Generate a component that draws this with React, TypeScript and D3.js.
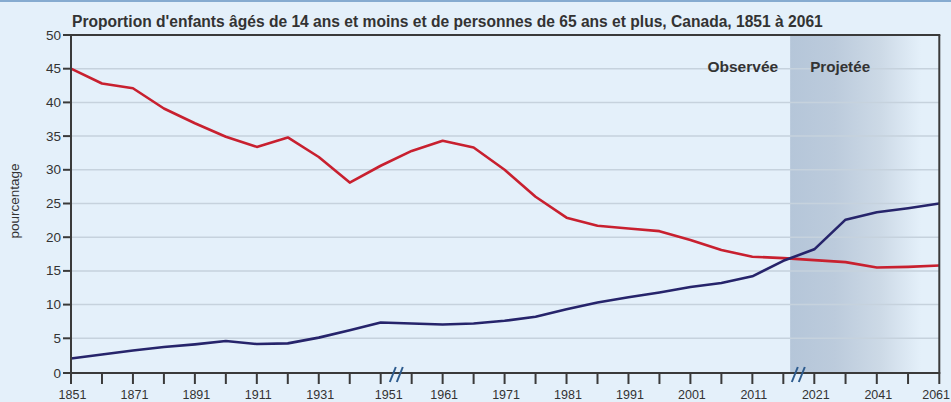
import React from "react";
import * as d3 from "d3";

const W = 951;
const H = 402;

const title =
  "Proportion d'enfants âgés de 14 ans et moins et de personnes de 65 ans et plus, Canada, 1851 à 2061";
const yAxisLabel = "pourcentage";
const observedLabel = "Observée";
const projectedLabel = "Projetée";

const years = [
  1851, 1861, 1871, 1881, 1891, 1901, 1911, 1921, 1931, 1941, 1951, 1956, 1961,
  1966, 1971, 1976, 1981, 1986, 1991, 1996, 2001, 2006, 2011, 2016, 2021, 2031,
  2041, 2051, 2061,
];
const children14 = [
  45.0, 42.8, 42.1, 39.1, 36.9, 34.9, 33.4, 34.8, 31.9, 28.1, 30.6, 32.8, 34.3,
  33.3, 30.0, 26.0, 22.9, 21.7, 21.3, 20.9, 19.6, 18.1, 17.1, 16.9, 16.6, 16.3,
  15.5, 15.6, 15.8,
];
const seniors65 = [
  2.0, 2.6, 3.2, 3.7, 4.1, 4.6, 4.15, 4.25, 5.1, 6.2, 7.35, 7.2, 7.05, 7.2, 7.6,
  8.2, 9.3, 10.3, 11.1, 11.8, 12.6, 13.2, 14.2, 16.5, 18.2, 22.6, 23.7, 24.3,
  25.0,
];

const tickYears = [
  1851, 1861, 1871, 1881, 1891, 1901, 1911, 1921, 1931, 1941, 1951, 1956, 1961,
  1966, 1971, 1976, 1981, 1986, 1991, 1996, 2001, 2006, 2011, 2016, 2021, 2031,
  2041, 2051, 2061,
];
const labelYears = [
  1851, 1871, 1891, 1911, 1931, 1951, 1961, 1971, 1981, 1991, 2001, 2011, 2021,
  2041, 2061,
];
const yTicks = [0, 5, 10, 15, 20, 25, 30, 35, 40, 45, 50];
const breakYears = [1953.6, 2018.5];
const projectionStart = 2017.1;

const x = d3
  .scaleLinear()
  .domain([1851, 1951, 2021, 2061])
  .range([71, 380.7, 814.3, 939.3]);
const y = d3.scaleLinear().domain([0, 50]).range([372, 35]);

const line = d3
  .line<number>()
  .x((_, i) => x(years[i]))
  .y((d) => y(d));

const BG = "#e4f0fa";
const AXIS = "#3a3a3a";
const TEXT = "#333333";
const FONT = "'Liberation Sans', Arial, sans-serif";

export default function App() {
  const plotLeft = x(1851);
  const plotRight = x(2061);
  const plotTop = y(50);
  const plotBottom = y(0);
  const axisY = plotBottom + 1;
  const shadeX = x(projectionStart);
  const lastYear = labelYears[labelYears.length - 1];

  return (
    <svg
      width={W}
      height={H}
      style={{ position: "absolute", left: 0, top: 0, display: "block" }}
      fontFamily={FONT}
    >
      <defs>
        <linearGradient id="proj" x1="0" x2="1" y1="0" y2="0">
          <stop offset="0" stopColor="#b5c6d9" />
          <stop offset="0.3" stopColor="#bccbdc" />
          <stop offset="0.6" stopColor="#ccd9e6" />
          <stop offset="0.88" stopColor={BG} />
          <stop offset="1" stopColor={BG} />
        </linearGradient>
      </defs>
      <rect x={0} y={0} width={W} height={H} fill={BG} />
      <rect x={0} y={0} width={W} height={2} fill="#86abd0" />

      {/* projection shading */}
      <rect
        x={shadeX}
        y={plotTop}
        width={plotRight - shadeX}
        height={axisY - plotTop}
        fill="url(#proj)"
      />

      {/* gridlines */}
      {yTicks
        .filter((t) => t > 0 && t < 50)
        .map((t) => (
          <line
            key={"g" + t}
            x1={plotLeft}
            x2={plotRight}
            y1={y(t)}
            y2={y(t)}
            stroke="#c6d2dd"
            strokeWidth={1.5}
          />
        ))}

      {/* title */}
      <text x={72} y={26.5} fontSize={15.6} fontWeight="bold" fill={TEXT}>
        {title}
      </text>

      {/* observed / projected labels */}
      <text
        x={shadeX - 12}
        y={72}
        fontSize={15.5}
        fontWeight="bold"
        fill={TEXT}
        textAnchor="end"
      >
        {observedLabel}
      </text>
      <text
        x={shadeX + 20}
        y={72}
        fontSize={15.2}
        fontWeight="bold"
        fill={TEXT}
      >
        {projectedLabel}
      </text>

      {/* lines */}
      <path
        d={line(children14) || ""}
        fill="none"
        stroke="#c8202f"
        strokeWidth={2.6}
        strokeLinejoin="round"
      />
      <path
        d={line(seniors65) || ""}
        fill="none"
        stroke="#26246b"
        strokeWidth={2.6}
        strokeLinejoin="round"
      />

      {/* frame */}
      <line x1={plotLeft} x2={plotRight + 1} y1={plotTop} y2={plotTop} stroke={AXIS} strokeWidth={2} />
      <line x1={plotRight} x2={plotRight} y1={plotTop} y2={axisY} stroke={AXIS} strokeWidth={2} />
      <line x1={plotLeft} x2={plotLeft} y1={plotTop - 1} y2={axisY + 1} stroke={AXIS} strokeWidth={2} />
      <line x1={plotLeft - 1} x2={plotRight + 1} y1={axisY} y2={axisY} stroke={AXIS} strokeWidth={2} />

      {/* y ticks */}
      {yTicks.map((t) => (
        <g key={"y" + t}>
          <line x1={plotLeft - 8} x2={plotLeft} y1={t === 0 ? axisY : y(t)} y2={t === 0 ? axisY : y(t)} stroke={AXIS} strokeWidth={2} />
          <text
            x={plotLeft - 10}
            y={(t === 0 ? axisY : y(t)) + 1}
            fontSize={13.5}
            fill={TEXT}
            textAnchor="end"
            dominantBaseline="middle"
          >
            {t}
          </text>
        </g>
      ))}

      {/* x ticks */}
      {tickYears.map((yr) => (
        <line
          key={"t" + yr}
          x1={x(yr)}
          x2={x(yr)}
          y1={axisY}
          y2={axisY + 11}
          stroke={AXIS}
          strokeWidth={2}
        />
      ))}
      {labelYears.map((yr) => (
        <text
          key={"l" + yr}
          x={yr === lastYear ? W - 1 : x(yr) + (yr === 1951 ? 8 : 1.5)}
          y={399}
          fontSize={12.5}
          fill={TEXT}
          textAnchor={yr === lastYear ? "end" : "middle"}
        >
          {yr}
        </text>
      ))}

      {/* axis break marks */}
      {breakYears.map((b) => (
        <g key={"b" + b} stroke="#2d5b8e" strokeWidth={2}>
          <line x1={x(b) - 7} x2={x(b) - 1} y1={axisY + 9} y2={axisY - 6} />
          <line x1={x(b) + 0} x2={x(b) + 6} y1={axisY + 9} y2={axisY - 6} />
        </g>
      ))}

      {/* y axis title */}
      <text
        transform={`translate(19, 201) rotate(-90)`}
        fontSize={13.5}
        fill={TEXT}
        textAnchor="middle"
      >
        {yAxisLabel}
      </text>
    </svg>
  );
}
